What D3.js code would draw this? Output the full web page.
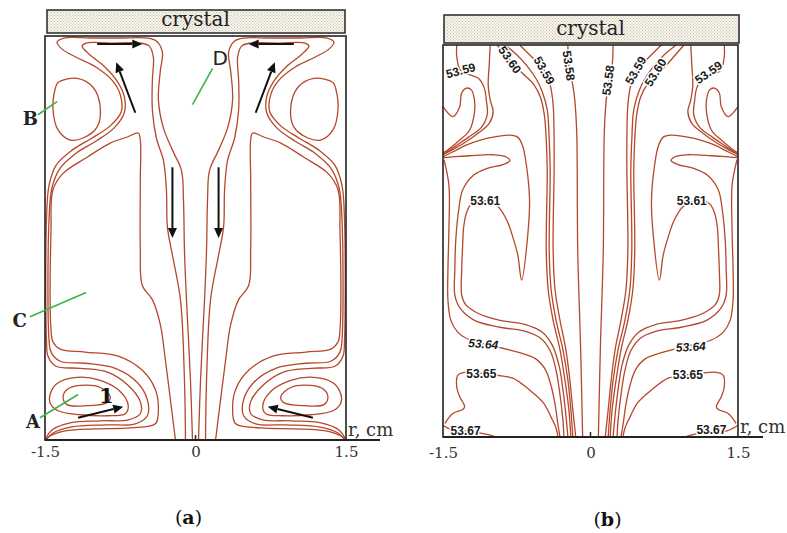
<!DOCTYPE html>
<html>
<head>
<meta charset="utf-8">
<script src="https://cdn.jsdelivr.net/npm/d3@7"></script>
<style>
body { margin: 0; background: #fff; }
svg text { font-family: "DejaVu Serif", serif; }
</style>
</head>
<body>
<div id="canvas"></div>
<script>
// r axis ticks
var ticks = [-1.5, 0, 1.5];
var tickLabels = ['-1.5', '0', '1.5'];

// (a) streamlines, left half, [r cm, z cm] -- right half is the mirror
var aVortexB = [[-1.37,3.54],[-1.18,3.58],[-1.02,3.49],[-0.95,3.30],[-0.98,3.10],[-1.12,2.99],[-1.25,2.97],[-1.37,3.07],[-1.42,3.27],[-1.40,3.47]];
var aVortexA1 = [[-1.32,0.42],[-1.28,0.50],[-1.15,0.54],[-0.95,0.52],[-0.85,0.43],[-0.88,0.37],[-1.08,0.34],[-1.28,0.35]];
var aVortexA2 = [[-1.45,0.45],[-1.38,0.56],[-1.18,0.62],[-0.95,0.59],[-0.75,0.48],[-0.67,0.34],[-0.70,0.26],[-0.87,0.24],[-1.15,0.25],[-1.37,0.29],[-1.45,0.37]];
var aStream1 = [[-0.03,0],[-0.05,0.59],[-0.09,1.39],[-0.11,1.88],[-0.12,2.38],[-0.14,2.67],[-0.23,2.87],[-0.32,3.09],[-0.37,3.37],[-0.35,3.66],[-0.33,3.84],[-0.39,3.95],[-0.48,3.98],[-0.75,3.98],[-1.05,3.98],[-1.31,3.98],[-1.38,3.94],[-1.33,3.87],[-1.19,3.79],[-0.99,3.69],[-0.83,3.56],[-0.75,3.42],[-0.74,3.25],[-0.85,3.11],[-1.03,2.99],[-1.23,2.87],[-1.39,2.72],[-1.46,2.52],[-1.485,2.18],[-1.485,0.99],[-1.47,0.83],[-1.39,0.73],[-1.15,0.71],[-0.87,0.67],[-0.67,0.54],[-0.55,0.38],[-0.55,0.26],[-0.67,0.20],[-0.95,0.19],[-1.25,0.17],[-1.43,0.10],[-1.49,0.02]];
var aStream2 = [[-0.10,0],[-0.11,0.59],[-0.15,1.39],[-0.23,1.83],[-0.28,2.11],[-0.29,2.48],[-0.32,2.77],[-0.39,2.99],[-0.43,3.27],[-0.43,3.56],[-0.42,3.79],[-0.46,3.90],[-0.55,3.93],[-0.85,3.93],[-1.09,3.93],[-1.13,3.90],[-1.06,3.82],[-0.91,3.70],[-0.78,3.55],[-0.71,3.40],[-0.71,3.24],[-0.81,3.09],[-0.99,2.96],[-1.19,2.84],[-1.35,2.69],[-1.43,2.50],[-1.46,2.18],[-1.46,0.99],[-1.44,0.87],[-1.35,0.78],[-1.10,0.76],[-0.80,0.71],[-0.58,0.57],[-0.48,0.40],[-0.48,0.24],[-0.60,0.16],[-0.90,0.15],[-1.23,0.13],[-1.42,0.07],[-1.49,0]];
var aStream3 = [[-0.20,0],[-0.25,0.40],[-0.30,0.79],[-0.35,1.14],[-0.43,1.39],[-0.53,1.53],[-0.55,1.88],[-0.55,2.57],[-0.55,2.97],[-0.57,3.04],[-0.68,3.00],[-0.85,2.94],[-1.08,2.80],[-1.32,2.64],[-1.42,2.48],[-1.44,2.08],[-1.44,1.09],[-1.42,0.97],[-1.35,0.90],[-1.10,0.87],[-0.77,0.83],[-0.53,0.69],[-0.40,0.50],[-0.37,0.30],[-0.40,0.16],[-0.65,0.12],[-1.00,0.11],[-1.30,0.09],[-1.45,0.04],[-1.50,0]];
// flow arrows, [tail, head], left half
var aArrows = [[[-0.98,3.92],[-0.53,3.92]], [[-0.60,3.24],[-0.79,3.74]], [[-0.23,2.70],[-0.23,2.00]], [[-1.17,0.22],[-0.72,0.33]]];
// region letters: text, text anchor point, pointer line
var aRegions = [
  {t:'D', at:[0.17,3.71], p0:[0.17,3.68], p1:[-0.03,3.32]},
  {t:'B', at:[-1.57,3.12], p0:[-1.57,3.22], p1:[-1.38,3.35]},
  {t:'C', at:[-1.68,1.12], p0:[-1.65,1.22], p1:[-1.09,1.46]},
  {t:'A', at:[-1.55,0.12], p0:[-1.55,0.22], p1:[-1.17,0.45]}
];

// (b) isotherms, left half, [r cm, z cm]
var bIso58 = [[-0.23,4.00],[-0.22,3.79],[-0.18,3.59],[-0.16,3.44],[-0.14,3.10],[-0.13,1.91],[-0.10,0.89],[-0.08,0]];
var bIso59c = [[-0.72,4.00],[-0.60,3.88],[-0.47,3.74],[-0.41,3.59],[-0.38,3.39],[-0.37,3.03],[-0.37,2.72],[-0.38,1.91],[-0.36,1.50],[-0.31,1.19],[-0.25,0.89],[-0.21,0.58],[-0.18,0.28],[-0.15,0]];
var bIso595 = [[-0.87,4.00],[-0.75,3.90],[-0.64,3.78],[-0.55,3.65],[-0.49,3.52],[-0.44,3.34],[-0.42,3.03],[-0.41,2.72],[-0.42,1.91],[-0.40,1.50],[-0.35,1.19],[-0.28,0.89],[-0.23,0.58],[-0.20,0.28],[-0.18,0]];
var bIso60 = [[-0.95,4.00],[-0.82,3.85],[-0.70,3.72],[-0.58,3.60],[-0.51,3.47],[-0.47,3.29],[-0.45,3.03],[-0.44,2.72],[-0.45,1.91],[-0.43,1.50],[-0.38,1.19],[-0.31,0.89],[-0.26,0.58],[-0.22,0.28],[-0.20,0]];
var bIso59a = [[-1.36,4.00],[-1.36,3.88],[-1.32,3.74],[-1.14,3.66],[-1.08,3.56],[-1.06,3.44],[-1.05,3.29],[-1.11,3.16],[-1.24,3.06],[-1.37,2.97],[-1.50,2.88]];
var bIso59b = [[-1.02,4.00],[-1.03,3.80],[-1.04,3.59],[-1.02,3.44],[-0.99,3.32],[-1.03,3.20],[-1.13,3.11],[-1.27,3.01],[-1.39,2.94],[-1.50,2.88]];
var bFinger = [[-1.50,3.37],[-1.40,3.27],[-1.33,3.37],[-1.31,3.51],[-1.26,3.56],[-1.21,3.54],[-1.18,3.44],[-1.18,3.31],[-1.23,3.13],[-1.33,3.03],[-1.45,2.93],[-1.50,2.90]];
var bIso61 = [[-1.50,2.86],[-1.38,2.92],[-1.26,2.98],[-1.12,3.03],[-0.99,3.06],[-0.82,3.08],[-0.74,3.06],[-0.69,2.97],[-0.65,2.76],[-0.62,2.42],[-0.64,2.04],[-0.70,1.60],[-0.74,1.86],[-0.79,2.04],[-0.85,2.21],[-0.94,2.35],[-1.07,2.41],[-1.21,2.38],[-1.26,2.29],[-1.29,2.14],[-1.30,1.96],[-1.31,1.70],[-1.31,1.45],[-1.27,1.35],[-1.14,1.26],[-0.92,1.19],[-0.67,1.15],[-0.49,1.07],[-0.39,0.94],[-0.32,0.73],[-0.28,0.48],[-0.25,0.22],[-0.23,0]];
var bIso62 = [[-1.49,2.85],[-1.38,2.86],[-1.23,2.87],[-0.99,2.88],[-0.86,2.86],[-0.82,2.82],[-0.89,2.78],[-1.05,2.74],[-1.19,2.67],[-1.30,2.52],[-1.34,2.32],[-1.37,2.01],[-1.38,1.70],[-1.38,1.45],[-1.33,1.32],[-1.18,1.19],[-0.92,1.12],[-0.67,1.08],[-0.51,1.01],[-0.41,0.88],[-0.35,0.68],[-0.31,0.43],[-0.28,0.17],[-0.27,0]];
var bIso64 = [[-1.49,2.83],[-1.44,2.57],[-1.44,2.11],[-1.45,1.70],[-1.45,1.40],[-1.42,1.19],[-1.35,1.07],[-1.23,0.99],[-1.09,0.95],[-0.95,0.92],[-0.87,0.90],[-0.72,0.86],[-0.56,0.80],[-0.46,0.69],[-0.40,0.52],[-0.36,0.33],[-0.33,0.12],[-0.31,0]];
var bIso65 = [[-1.48,0.14],[-1.40,0.24],[-1.30,0.28],[-1.28,0.31],[-1.33,0.41],[-1.36,0.51],[-1.35,0.63],[-1.28,0.66],[-1.11,0.65],[-0.95,0.63],[-0.79,0.60],[-0.62,0.48],[-0.48,0.35],[-0.40,0.20],[-0.35,0.09],[-0.33,0]];
var bIso67 = [[-1.50,0.12],[-1.45,0.09],[-1.38,0.06],[-1.27,0.06],[-1.12,0.04],[-1.02,0.02],[-0.96,0]];
// contour labels: text, r, z, angle
var bLabels = [
  ['53.59',-1.32,3.74,-15], ['53.60',-0.82,3.85,55], ['53.59',-0.47,3.74,60], ['53.58',-0.22,3.79,82],
  ['53.61',-1.07,2.41,0], ['53.64',-1.09,0.95,4], ['53.65',-1.11,0.65,0], ['53.67',-1.27,0.06,0],
  ['53.58',0.18,3.64,-82], ['53.59',0.46,3.74,-60], ['53.60',0.66,3.72,-58], ['53.59',1.20,3.72,-35],
  ['53.61',1.03,2.41,0], ['53.64',1.02,0.92,-3], ['53.65',0.99,0.63,0], ['53.67',1.23,0.07,0]
];

var RED = '#b5472b';
var svg = d3.select('#canvas').append('svg').attr('width', 787).attr('height', 533);

// dotted fill for the crystal
var pat = svg.append('defs').append('pattern').attr('id', 'dots')
    .attr('width', 3).attr('height', 3).attr('patternUnits', 'userSpaceOnUse');
pat.append('rect').attr('width', 3).attr('height', 3).attr('fill', '#f7f5ef');
pat.append('rect').attr('width', 1).attr('height', 1).attr('fill', '#a9d2a6');
pat.append('rect').attr('x', 1.5).attr('y', 1.5).attr('width', 1).attr('height', 1).attr('fill', '#e8aa9c');

function mirror(pts) { return pts.map(function(p) { return [-p[0], p[1]]; }); }

function drawCurves(g, x, y, open, closed) {
    var line = d3.line().x(function(d) { return x(d[0]); }).y(function(d) { return y(d[1]); })
        .curve(d3.curveCatmullRom.alpha(0.5));
    var loop = d3.line().x(function(d) { return x(d[0]); }).y(function(d) { return y(d[1]); })
        .curve(d3.curveCatmullRomClosed.alpha(0.5));
    var all = [];
    open.forEach(function(c) { all.push({d: c, c: false}, {d: mirror(c), c: false}); });
    closed.forEach(function(c) { all.push({d: c, c: true}, {d: mirror(c), c: true}); });
    g.selectAll('path.iso').data(all).enter().append('path')
        .attr('class', 'iso')
        .attr('d', function(s) { return s.c ? loop(s.d) : line(s.d); })
        .attr('fill', 'none').attr('stroke', RED).attr('stroke-width', 1.3);
}

function frame(g, x, y, o) {
    // crystal
    g.append('rect').attr('x', x(-1.5) + o.cx0).attr('y', o.cy).attr('width', x(1.5) - x(-1.5) + o.cw)
        .attr('height', o.ch).attr('fill', 'url(#dots)').attr('stroke', '#333').attr('stroke-width', 1.6);
    g.append('text').attr('x', x(0)).attr('y', o.cty).attr('text-anchor', 'middle')
        .attr('font-size', 20).attr('fill', '#222').text('crystal');
    // melt box
    g.append('rect').attr('x', x(-1.5)).attr('y', y(4)).attr('width', x(1.5) - x(-1.5))
        .attr('height', y(0) - y(4)).attr('fill', 'none').attr('stroke', '#222').attr('stroke-width', 1.6);
    // r axis
    g.append('line').attr('x1', x(-1.5)).attr('x2', x(1.5) + o.ext).attr('y1', y(0)).attr('y2', y(0))
        .attr('stroke', '#222').attr('stroke-width', 1.8);
    g.append('line').attr('x1', x(0)).attr('x2', x(0)).attr('y1', y(0)).attr('y2', y(0) - 5)
        .attr('stroke', '#222').attr('stroke-width', 1.5);
    var axis = d3.axisBottom(x).tickValues(ticks).tickSize(0).tickPadding(o.pad)
        .tickFormat(function(d, i) { return tickLabels[i]; });
    var ag = g.append('g').attr('transform', 'translate(0,' + y(0) + ')').call(axis);
    ag.select('.domain').remove();
    ag.selectAll('text').style('font-family', '"DejaVu Serif", serif').style('font-size', '15px').attr('fill', '#333');
    g.append('text').attr('x', x(1.5) + 2).attr('y', y(0) - 4).attr('font-size', 18).attr('fill', '#333').text('r, cm');
    var cap = g.append('text').attr('x', x(0) + o.capdx).attr('y', o.capy).attr('text-anchor', 'middle')
        .attr('font-size', 19).attr('fill', '#111');
    cap.append('tspan').text('(');
    cap.append('tspan').attr('font-weight', 'bold').text(o.cap);
    cap.append('tspan').text(')');
}

function arrow(g, x, y, a) {
    var x1 = x(a[0][0]), y1 = y(a[0][1]), x2 = x(a[1][0]), y2 = y(a[1][1]);
    var ang = Math.atan2(y2 - y1, x2 - x1), L = 10, w = 4.5;
    var bx = x2 - L * Math.cos(ang), by = y2 - L * Math.sin(ang);
    g.append('line').attr('x1', x1).attr('y1', y1).attr('x2', bx).attr('y2', by)
        .attr('stroke', '#111').attr('stroke-width', 2);
    g.append('path').attr('d', 'M' + x2 + ',' + y2 + 'L' + (bx + w * Math.sin(ang)) + ',' + (by - w * Math.cos(ang)) +
        'L' + (bx - w * Math.sin(ang)) + ',' + (by + w * Math.cos(ang)) + 'Z').attr('fill', '#111');
}

// ---------- panel (a)
var ax = d3.scaleLinear().domain([-1.5, 1.5]).range([45, 346]);
var ay = d3.scaleLinear().domain([0, 4]).range([440, 36]);
var ga = svg.append('g');
drawCurves(ga, ax, ay, [aStream1, aStream2, aStream3], [aVortexB, aVortexA1, aVortexA2]);
frame(ga, ax, ay, {cx0: 2, cw: -3, cy: 10, ch: 23, cty: 26, ext: 34, pad: 6.5, capdx: -7, capy: 524, cap: 'a'});
aArrows.forEach(function(a) {
    arrow(ga, ax, ay, a);
    arrow(ga, ax, ay, mirror(a));
});
aRegions.forEach(function(m) {
    ga.append('line').attr('x1', ax(m.p0[0])).attr('y1', ay(m.p0[1])).attr('x2', ax(m.p1[0])).attr('y2', ay(m.p1[1]))
        .attr('stroke', '#3cb44b').attr('stroke-width', 1.6);
    var t = ga.append('text').attr('x', ax(m.at[0])).attr('y', ay(m.at[1])).text(m.t).attr('fill', '#222');
    if (m.t === 'D') t.style('font-family', '"DejaVu Sans", sans-serif').attr('font-size', 20);
    else t.attr('text-anchor', 'end').attr('font-weight', 'bold').attr('font-size', 18);
});
ga.append('text').attr('x', ax(-0.89)).attr('y', ay(0.37)).attr('text-anchor', 'middle')
    .attr('font-weight', 'bold').attr('font-size', 21).attr('fill', '#111').text('1');

// ---------- panel (b)
var bx = d3.scaleLinear().domain([-1.5, 1.5]).range([443, 738]);
var by = d3.scaleLinear().domain([0, 4]).range([437, 45]);
var gb = svg.append('g');
drawCurves(gb, bx, by, [bIso58, bIso59c, bIso595, bIso60, bIso59a, bIso59b, bFinger, bIso61, bIso62, bIso64, bIso65, bIso67], []);
gb.selectAll('text.lab').data(bLabels).enter().append('text')
    .attr('class', 'lab')
    .attr('transform', function(d) { return 'translate(' + bx(d[1]) + ',' + by(d[2]) + ') rotate(' + d[3] + ')'; })
    .attr('text-anchor', 'middle').attr('dy', '0.35em')
    .style('font-family', '"Liberation Sans", Arial, sans-serif').attr('font-size', 12).attr('font-weight', 'bold')
    .attr('font-style', function(d) { return d[0] === '53.64' ? 'italic' : 'normal'; })
    .attr('fill', '#1a1a1a').attr('stroke', '#fff').attr('stroke-width', 3).attr('paint-order', 'stroke')
    .text(function(d) { return d[0]; });
frame(gb, bx, by, {cx0: 1, cw: 0, cy: 15, ch: 28, cty: 35, ext: 25, pad: 10, capdx: 17, capy: 526, cap: 'b'});
</script>
</body>
</html>
